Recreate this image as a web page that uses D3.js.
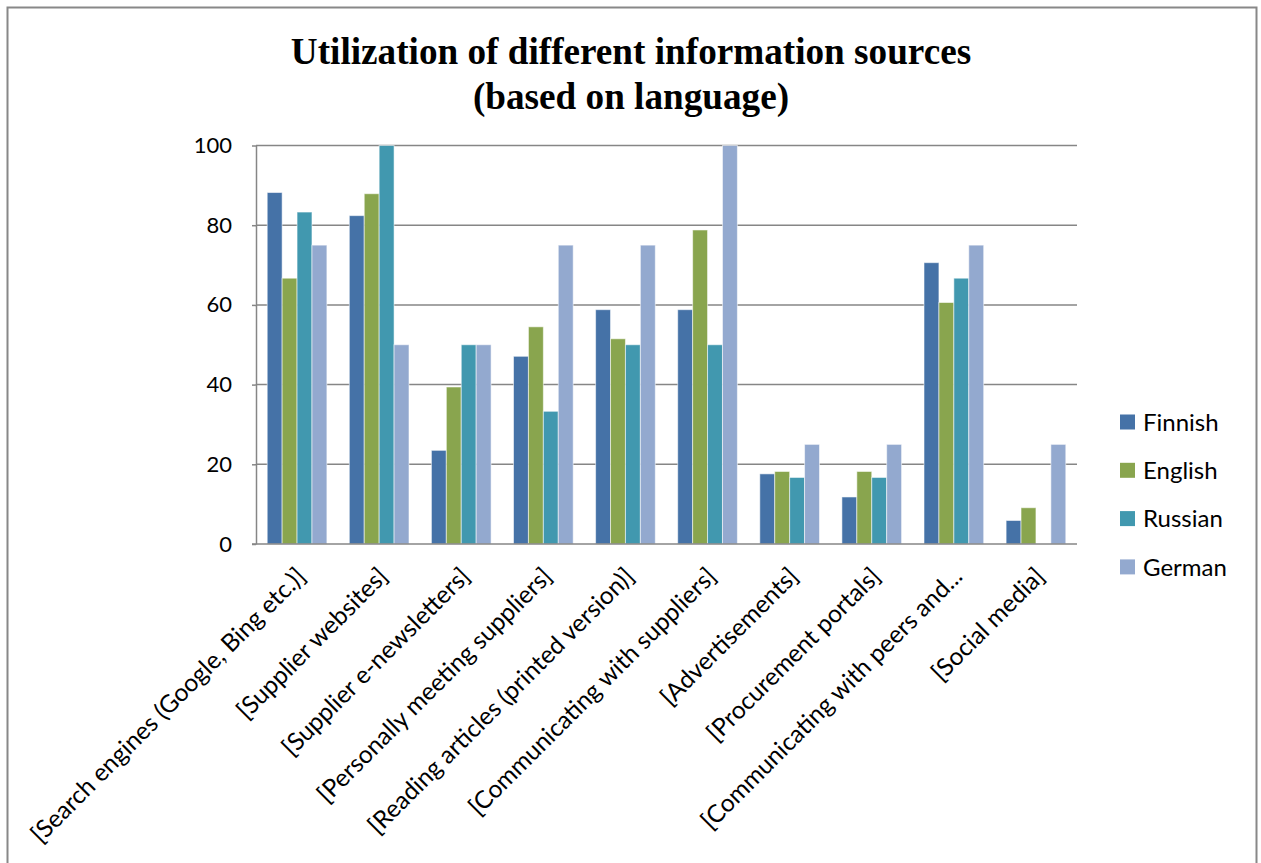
<!DOCTYPE html>
<html>
<head>
<meta charset="utf-8">
<script src="https://cdn.jsdelivr.net/npm/d3@7"></script>
<style>
  body { margin: 0; background: white; }
  .tick text { font-family: Lato, "Open Sans", sans-serif; }
</style>
</head>
<body>
<div class="plot"></div>
<script>
// Data (percent of respondents)
var categories = [
    "[Search engines (Google, Bing etc.)]",
    "[Supplier websites]",
    "[Supplier e-newsletters]",
    "[Personally meeting suppliers]",
    "[Reading articles (printed version)]",
    "[Communicating with suppliers]",
    "[Advertisements]",
    "[Procurement portals]",
    "[Communicating with peers and...",
    "[Social media]"
];
var languages = ["Finnish", "English", "Russian", "German"];
var finnish = [88.2, 82.4, 23.5, 47.1, 58.8, 58.8, 17.6, 11.8, 70.6, 5.9];
var english = [66.7, 87.9, 39.4, 54.5, 51.5, 78.8, 18.2, 18.2, 60.6, 9.1];
var russian = [83.3, 100, 50, 33.3, 50, 50, 16.7, 16.7, 66.7, 0];
var german  = [75, 50, 50, 75, 75, 100, 25, 25, 75, 25];
var yTicks = [0, 20, 40, 60, 80, 100];
var colors = ["#4572a7", "#89a54e", "#4198af", "#93a9cf"];

var series = [finnish, english, russian, german];
var data = categories.map(function (c, i) {
    return {name: c, values: languages.map(function (l, j) { return {lang: l, value: series[j][i]}; })};
});

// Layout
var outerWidth = 1261,
    outerHeight = 863,
    plot = {left: 256, right: 1077, top: 145.5, bottom: 544};

var svg = d3.select(".plot")
    .append("svg")
    .attr("width", outerWidth)
    .attr("height", outerHeight);

svg.append("rect")
    .attr("width", "100%")
    .attr("height", "100%")
    .attr("fill", "white");

// Outer chart frame (no bottom edge visible in the reference)
svg.append("path")
    .attr("d", "M7.5,870V7.5H1256.5V870")
    .attr("fill", "none")
    .attr("stroke", "#888")
    .attr("stroke-width", 2);

// Title
var title = svg.append("text")
    .attr("text-anchor", "middle")
    .attr("font-family", "'Liberation Serif', 'Times New Roman', serif")
    .attr("font-weight", "bold")
    .attr("font-size", 37.2)
    .attr("fill", "#000");
title.append("tspan").attr("x", 631).attr("y", 64).text("Utilization of different information sources");
title.append("tspan").attr("x", 631).attr("y", 109).text("(based on language)");

// Scales
var x0 = d3.scaleBand().domain(categories).range([plot.left, plot.right]).paddingInner(0.273).paddingOuter(0.1365);
var x1 = d3.scaleBand().domain(languages).range([0, x0.bandwidth()]);
var y = d3.scaleLinear().domain([0, 100]).range([plot.bottom, plot.top]);
var band = d3.scaleBand().domain(categories).range([plot.left, plot.right]);

// Gridlines
svg.append("g")
    .selectAll("line")
    .data(yTicks.filter(function (d) { return d > 0; }))
    .enter().append("line")
    .attr("x1", plot.left)
    .attr("x2", plot.right)
    .attr("y1", function (d) { return y(d); })
    .attr("y2", function (d) { return y(d); })
    .attr("stroke", "#868686")
    .attr("stroke-width", 1.5);

// Bars
svg.append("g")
    .selectAll("g")
    .data(data)
    .enter().append("g")
    .attr("transform", function (d) { return "translate(" + x0(d.name) + ",0)"; })
    .selectAll("rect")
    .data(function (d) { return d.values; })
    .enter().append("rect")
    .attr("x", function (d) { return x1(d.lang); })
    .attr("width", x1.bandwidth())
    .attr("y", function (d) { return y(d.value); })
    .attr("height", function (d) { return y(0) - y(d.value); })
    .attr("fill", function (d, i) { return colors[i]; })
    .attr("stroke", "rgba(255,255,255,0.55)")
    .attr("stroke-width", 1);

// Y axis
var yAxis = svg.append("g")
    .attr("transform", "translate(" + plot.left + ",0)")
    .call(d3.axisLeft(y).tickValues(yTicks).tickSize(4).tickPadding(20).tickSizeOuter(0));
yAxis.select(".domain").attr("stroke", "#868686").attr("stroke-width", 1.5);
yAxis.selectAll(".tick line").attr("stroke", "#868686").attr("stroke-width", 1.5);
yAxis.selectAll(".tick text").attr("font-size", 22).attr("fill", "#000");

// X axis line
svg.append("line")
    .attr("x1", plot.left - 4)
    .attr("x2", plot.right)
    .attr("y1", plot.bottom)
    .attr("y2", plot.bottom)
    .attr("stroke", "#868686")
    .attr("stroke-width", 1.5);

// Rotated category labels
svg.append("g")
    .selectAll("text")
    .data(categories)
    .enter().append("text")
    .attr("text-anchor", "end")
    .attr("font-family", "Lato, 'Open Sans', sans-serif")
    .attr("font-size", 24.5)
    .attr("fill", "#000")
    .attr("transform", function (d) {
        var cx = band(d) + band.bandwidth() / 2 + 10;
        return "translate(" + cx + ",578) rotate(-45)";
    })
    .text(function (d) { return d; });

// Legend
var legend = svg.append("g")
    .selectAll("g")
    .data(languages)
    .enter().append("g")
    .attr("transform", function (d, i) { return "translate(1120," + (422 + i * 48.3) + ")"; });
legend.append("rect")
    .attr("y", -7.5)
    .attr("width", 15)
    .attr("height", 15)
    .attr("fill", function (d, i) { return colors[i]; });
legend.append("text")
    .attr("x", 23)
    .attr("dy", "0.36em")
    .attr("font-family", "Lato, 'Open Sans', sans-serif")
    .attr("font-size", 24)
    .attr("fill", "#000")
    .text(function (d) { return d; });
</script>
</body>
</html>
